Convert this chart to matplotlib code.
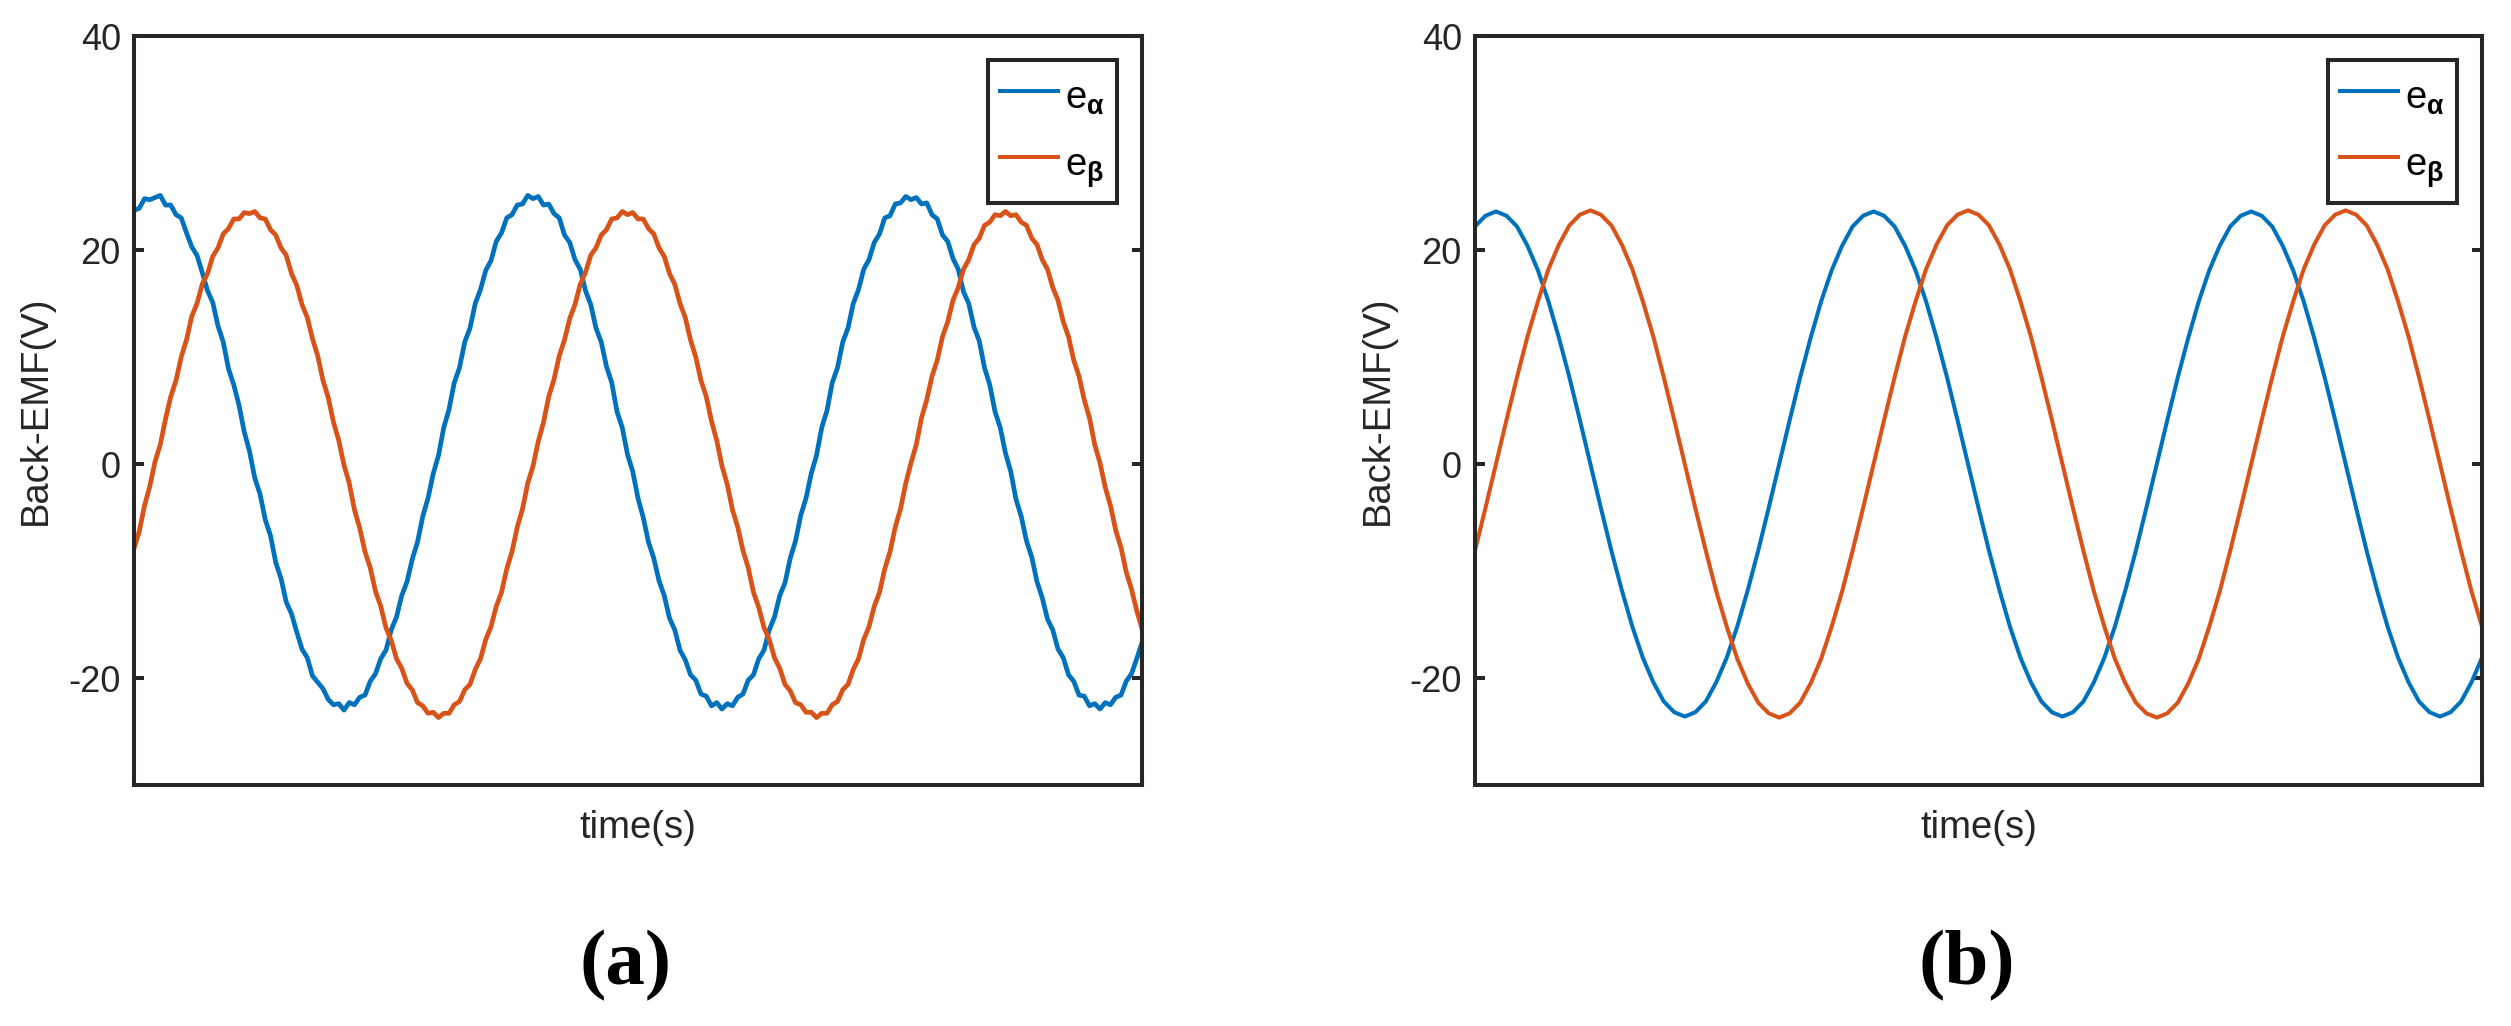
import numpy as np
import matplotlib.pyplot as plt

plt.rcParams['font.family'] = ['Liberation Sans', 'DejaVu Sans']
plt.rcParams['mathtext.fontset'] = 'custom'
plt.rcParams['mathtext.rm'] = 'Liberation Sans'
plt.rcParams['mathtext.bf'] = 'Liberation Sans:bold'
plt.rcParams['mathtext.it'] = 'Liberation Sans:italic'
plt.rcParams['axes.unicode_minus'] = False

# electrical period of the back-EMF (s); x axis has no tick labels
PERIOD = 0.02

e_alpha_meas = [
    23.7, 23.9, 24.8, 24.7, 24.9, 25.1, 24.2, 24.2, 23.3, 23.0,
    21.6, 20.3, 19.5, 17.9, 16.2, 15.1, 12.9, 11.4, 8.9, 7.4,
    5.5, 3.0, 1.2, -1.3, -2.8, -5.2, -6.7, -9.2, -10.7, -12.9,
    -14.0, -15.7, -17.3, -18.1, -19.8, -20.4, -21.0, -22.0, -22.5, -22.4,
    -23.0, -22.3, -22.5, -21.8, -21.6, -20.3, -19.6, -18.2, -17.4, -15.5,
    -14.3, -12.3, -11.0, -8.9, -7.3, -4.9, -3.2, -0.9, 0.8, 3.4,
    5.1, 7.6, 9.0, 11.4, 12.7, 15.0, 16.3, 18.1, 19.0, 20.8,
    21.6, 23.0, 23.3, 24.2, 24.3, 25.1, 24.8, 25.0, 24.2, 24.3,
    23.4, 23.0, 21.4, 20.7, 19.1, 18.2, 16.2, 14.9, 12.7, 11.4,
    9.1, 7.6, 4.9, 3.4, 0.9, -0.7, -3.2, -5.0, -7.3, -8.8,
    -10.9, -12.3, -14.4, -15.5, -17.4, -18.3, -19.7, -20.2, -21.5, -21.7,
    -22.6, -22.3, -22.9, -22.4, -22.6, -21.8, -21.5, -20.2, -19.7, -18.2,
    -17.4, -15.5, -14.3, -12.3, -11.1, -8.8, -7.2, -4.8, -3.2, -0.9,
    0.8, 3.4, 5.0, 7.6, 9.0, 11.4, 12.7, 15.0, 16.3, 18.2,
    19.1, 20.7, 21.5, 23.0, 23.2, 24.3, 24.4, 25.0, 24.7, 24.9,
    24.3, 24.4, 23.3, 22.9, 21.4, 20.8, 19.2, 18.2, 16.1, 15.0,
    12.8, 11.5, 9.0, 7.4, 4.9, 3.4, 1.0, -0.7, -3.3, -4.9,
    -7.2, -8.7, -11.0, -12.5, -14.5, -15.5, -17.3, -18.1, -19.7, -20.3,
    -21.6, -21.7, -22.6, -22.4, -22.9, -22.3, -22.5, -21.8, -21.6, -20.3,
    -19.6, -18.2, -16.7,
]
e_beta_meas = [
    -7.9, -6.3, -3.9, -2.1, 0.2, 1.8, 4.2, 6.3, 7.8, 10.0,
    11.6, 13.8, 15.0, 16.8, 17.8, 19.4, 20.2, 21.5, 22.0, 22.9,
    22.9, 23.5, 23.4, 23.6, 23.0, 22.9, 21.9, 21.4, 20.2, 19.5,
    17.8, 16.7, 14.9, 13.7, 11.7, 10.1, 7.8, 6.2, 3.9, 2.2,
    -0.1, -1.8, -4.3, -6.0, -8.2, -9.7, -11.9, -13.3, -15.3, -16.5,
    -18.2, -19.1, -20.5, -21.1, -22.3, -22.6, -23.3, -23.2, -23.7, -23.3,
    -23.3, -22.5, -22.2, -21.1, -20.6, -19.2, -18.2, -16.4, -15.2, -13.3,
    -12.0, -9.8, -8.2, -5.9, -4.2, -1.8, -0.2, 2.1, 3.9, 6.3,
    7.9, 10.1, 11.6, 13.6, 14.9, 16.8, 17.9, 19.5, 20.2, 21.4,
    21.9, 22.9, 23.0, 23.6, 23.3, 23.5, 22.9, 22.9, 22.0, 21.5,
    20.2, 19.4, 17.8, 16.8, 15.0, 13.7, 11.6, 10.0, 7.8, 6.3,
    4.0, 2.2, -0.2, -1.9, -4.3, -5.9, -8.1, -9.7, -12.0, -13.4,
    -15.3, -16.4, -18.1, -19.1, -20.6, -21.2, -22.3, -22.5, -23.2, -23.2,
    -23.7, -23.3, -23.3, -22.5, -22.2, -21.1, -20.6, -19.2, -18.2, -16.4,
    -15.2, -13.3, -12.0, -9.8, -8.2, -5.9, -4.2, -1.8, 0.1, 1.8,
    4.3, 6.0, 8.2, 9.7, 11.9, 13.3, 15.3, 16.5, 18.2, 19.1,
    20.5, 21.1, 22.3, 22.6, 23.3, 23.2, 23.6, 23.2, 23.3, 22.6,
    22.3, 21.1, 20.5, 19.1, 18.2, 16.5, 15.3, 13.3, 11.9, 9.7,
    8.2, 6.0, 4.3, 1.8, 0.1, -2.2, -3.9, -6.2, -7.8, -10.1,
    -11.7, -13.7, -15.4,
]

# (b) estimated back-EMF, sampled every 1/36 period
e_alpha_est = [
    22.2, 23.2, 23.6, 23.2, 22.2, 20.4, 18.1, 15.2, 11.8, 8.1,
    4.1, 0.0, -4.1, -8.1, -11.8, -15.2, -18.1, -20.4, -22.2, -23.2,
    -23.6, -23.2, -22.2, -20.4, -18.1, -15.2, -11.8, -8.1, -4.1, 0.0,
    4.1, 8.1, 11.8, 15.2, 18.1, 20.4, 22.2, 23.2, 23.6, 23.2,
    22.2, 20.4, 18.1, 15.2, 11.8, 8.1, 4.1, 0.0, -4.1, -8.1,
    -11.8, -15.2, -18.1, -20.4, -22.2, -23.2, -23.6, -23.2, -22.2, -20.4,
    -18.1, -15.2, -11.8, -8.1, -4.1, 0.0, 4.1, 8.1, 11.8, 15.2,
    18.1, 20.4, 22.2, 23.2, 23.6, 23.2, 22.2, 20.4, 18.1, 15.2,
    11.8, 8.1, 4.1, 0.0, -4.1, -8.1, -11.8, -15.2, -18.1, -20.4,
    -22.2, -23.2, -23.6, -23.2, -22.2, -20.4, -18.1,
]
e_beta_est = [
    -8.1, -4.1, 0.0, 4.1, 8.1, 11.9, 15.2, 18.2, 20.5, 22.3,
    23.3, 23.7, 23.3, 22.3, 20.5, 18.2, 15.2, 11.9, 8.1, 4.1,
    0.0, -4.1, -8.1, -11.9, -15.2, -18.2, -20.5, -22.3, -23.3, -23.7,
    -23.3, -22.3, -20.5, -18.2, -15.2, -11.9, -8.1, -4.1, 0.0, 4.1,
    8.1, 11.9, 15.2, 18.2, 20.5, 22.3, 23.3, 23.7, 23.3, 22.3,
    20.5, 18.2, 15.2, 11.9, 8.1, 4.1, 0.0, -4.1, -8.1, -11.9,
    -15.2, -18.2, -20.5, -22.3, -23.3, -23.7, -23.3, -22.3, -20.5, -18.2,
    -15.2, -11.9, -8.1, -4.1, 0.0, 4.1, 8.1, 11.9, 15.2, 18.2,
    20.5, 22.3, 23.3, 23.7, 23.3, 22.3, 20.5, 18.2, 15.2, 11.9,
    8.1, 4.1, 0.0, -4.1, -8.1, -11.9, -15.2,
]

legend_labels = [r'$\mathrm{e}_{\mathbf{\alpha}}$', r'$\mathrm{e}_{\mathbf{\beta}}$']
panel_tags = ['(a)', '(b)']
y_ticks = [-20, 0, 20, 40]

t_meas = np.arange(len(e_alpha_meas)) * PERIOD / 72
t_est = np.arange(len(e_alpha_est)) * PERIOD / 36

BLUE = '#0072BD'
ORANGE = '#D95319'
DARK = '#262626'
W, H = 2511, 1026

fig = plt.figure(figsize=(W / 100, H / 100), dpi=100)
ax_a = fig.add_axes([134 / W, 1 - 785 / H, 1008 / W, 749 / H])
ax_b = fig.add_axes([1475 / W, 1 - 785 / H, 1007 / W, 749 / H])

panels = [
    (ax_a, t_meas, e_alpha_meas, e_beta_meas, 3.4),
    (ax_b, t_est, e_alpha_est, e_beta_est, 2.9),
]

for (ax, t, ea, eb, lw), tag in zip(panels, panel_tags):
    ax.plot(t, ea, color=BLUE, lw=lw, label=legend_labels[0])
    ax.plot(t, eb, color=ORANGE, lw=lw, label=legend_labels[1])
    ax.set_xlim(t[0], t[-1])
    ax.set_ylim(-30, 40)
    ax.set_xticks([])
    ax.set_yticks(y_ticks)
    ax.tick_params(axis='y', direction='in', length=7, width=2.9,
                   left=True, right=True, labelsize=26, pad=9.5, colors=DARK)
    for sp in ax.spines.values():
        sp.set_linewidth(2.9)
        sp.set_color(DARK)
    ax.set_xlabel('time(s)', fontsize=27.5, labelpad=18, color=DARK)
    ax.set_ylabel('Back-EMF(V)', fontsize=27.5, color=DARK)
    ax.yaxis.set_label_coords(-0.079, 0.5)

    leg = ax.legend(loc='upper right', bbox_to_anchor=(1 - 25 / 1007, 1 - 24 / 749),
                    borderaxespad=0, fontsize=27.5, handlelength=1.5,
                    handleheight=1.54, handletextpad=0.18, borderpad=0.33,
                    labelspacing=0.5, fancybox=False, framealpha=1,
                    edgecolor=DARK)
    leg.get_frame().set_linewidth(2.9)
    for h in leg.get_lines():
        h.set_linewidth(2.9)

    pos = ax.get_position()
    fig.text(pos.x0 + pos.width / 2 - 12 / W, 1 - 966 / H, tag,
             fontsize=57, fontweight='bold', family='Liberation Serif',
             ha='center', va='center')

fig.savefig('out.png', dpi=100)
